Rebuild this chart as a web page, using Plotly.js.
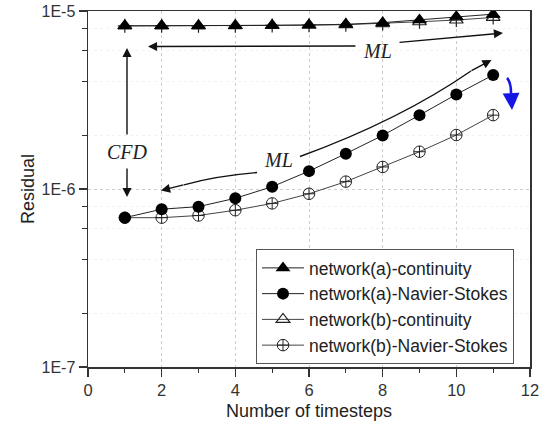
<!DOCTYPE html>
<html>
<head>
<meta charset="utf-8">
<script src="https://cdn.plot.ly/plotly-3.0.1.min.js"></script>
<style>html,body{margin:0;padding:0;background:#fff}#chart{width:551px;height:425px}</style>
</head>
<body>
<div id="chart"></div>
<script>
// ---- data ----
const timesteps = [1, 2, 3, 4, 5, 6, 7, 8, 9, 10, 11];
const aContinuity = [8.25e-6, 8.25e-6, 8.25e-6, 8.27e-6, 8.3e-6, 8.35e-6, 8.42e-6, 8.6e-6, 8.9e-6, 9.3e-6, 9.6e-6];
const aNavierStokes = [6.9e-7, 7.7e-7, 7.96e-7, 8.87e-7, 1.03e-6, 1.26e-6, 1.58e-6, 2.0e-6, 2.6e-6, 3.4e-6, 4.37e-6];
const bContinuity = [8.25e-6, 8.25e-6, 8.25e-6, 8.27e-6, 8.3e-6, 8.33e-6, 8.38e-6, 8.5e-6, 8.7e-6, 8.9e-6, 9.2e-6];
const bNavierStokes = [6.9e-7, 6.9e-7, 7.1e-7, 7.6e-7, 8.3e-7, 9.4e-7, 1.1e-6, 1.33e-6, 1.62e-6, 2.01e-6, 2.6e-6];
const seriesNames = ["network(a)-continuity", "network(a)-Navier-Stokes", "network(b)-continuity", "network(b)-Navier-Stokes"];
const yTickVals = [1e-7, 1e-6, 1e-5];
const yTickText = ["1E-7", "1E-6", "1E-5"];
const yMinorVals = [2e-7, 4e-7, 6e-7, 8e-7, 2e-6, 4e-6, 6e-6, 8e-6];

// ---- layout helpers (pixel -> paper) ----
const L = 88, R = 530, T = 11, B = 367;
const px = x => (x - L) / (R - L);
const py = y => (B - y) / (B - T);

const lineCol = '#222';
const traces = [
  {x: timesteps, y: bContinuity, name: seriesNames[2], legendrank: 3, mode: 'lines+markers',
   line: {color: '#444', width: 1}, marker: {symbol: 'triangle-up-open', size: 12, color: '#222', line: {width: 1.2, color: '#222'}}},
  {x: timesteps, y: bContinuity, name: seriesNames[2], showlegend: false, mode: 'markers', hoverinfo: 'skip',
   marker: {symbol: 'cross-thin-open', size: 10, color: '#222', line: {width: 1.2, color: '#222'}}},
  {x: timesteps, y: bNavierStokes, name: seriesNames[3], legendrank: 4, mode: 'lines+markers',
   line: {color: '#444', width: 1}, marker: {symbol: 'circle-cross-open', size: 11.5, color: '#222', line: {width: 1, color: '#222'}}},
  {x: timesteps, y: aContinuity, name: seriesNames[0], legendrank: 1, mode: 'lines+markers',
   line: {color: lineCol, width: 1}, marker: {symbol: 'triangle-up', size: 13, color: '#000'}},
  {x: timesteps, y: aNavierStokes, name: seriesNames[1], legendrank: 2, mode: 'lines+markers',
   line: {color: lineCol, width: 1}, marker: {symbol: 'circle', size: 12, color: '#000'}}
];

const serif = {family: 'Liberation Serif, Times New Roman, serif', size: 20, color: '#222'};
const ann = (x, y, text) => ({xref: 'paper', yref: 'paper', x: px(x), y: py(y), xanchor: 'center', yanchor: 'middle',
  text: text, showarrow: false, font: serif});
const arrow = (hx, hy, tx, ty, color, width) => ({xref: 'paper', yref: 'paper', x: px(hx), y: py(hy), ax: tx - hx, ay: ty - hy,
  text: '', showarrow: true, arrowhead: 2, arrowsize: 1.3, arrowwidth: width || 1.4, arrowcolor: color || '#111'});

const pathP = pts => pts.map(p => p[0] + px(p[1]) + ',' + py(p[2])).join(' ');

const layout = {
  width: 551, height: 425,
  margin: {l: L, r: 551 - R, t: T, b: 425 - B},
  paper_bgcolor: '#fff', plot_bgcolor: '#fff',
  font: {family: 'Liberation Sans, Arial, sans-serif', size: 16, color: '#333'},
  showlegend: true,
  legend: {x: px(256), y: py(249), xanchor: 'left', yanchor: 'top', bgcolor: '#fff', bordercolor: '#555', borderwidth: 1,
    font: {size: 17.5, color: '#222'}, traceorder: 'normal', tracegroupgap: 0, itemwidth: 42},
  xaxis: {range: [0, 12], dtick: 2, tick0: 0, ticks: 'outside', ticklen: 8, tickwidth: 1.2, tickcolor: '#333',
    showline: true, linecolor: '#333', linewidth: 1.5, mirror: true, zeroline: false,
    showgrid: true, gridcolor: '#cccccc', griddash: 'dot', gridwidth: 1,
    minor: {dtick: 1, ticks: 'outside', ticklen: 4, tickcolor: '#333', showgrid: false},
    tickfont: {size: 16.5, color: '#333'},
    title: {text: 'Number of timesteps', font: {size: 18, color: '#222'}, standoff: 6}},
  yaxis: {type: 'log', range: [-7, -5], tickmode: 'array', tickvals: yTickVals, ticktext: yTickText,
    ticks: 'outside', ticklen: 8, tickwidth: 1.2, tickcolor: '#333',
    showline: true, linecolor: '#333', linewidth: 1.5, mirror: true, zeroline: false,
    showgrid: true, gridcolor: '#cccccc', griddash: 'dot', gridwidth: 1,
    minor: {tickmode: 'array', tickvals: yMinorVals, ticks: 'outside', ticklen: 5, tickcolor: '#333', showgrid: true, gridcolor: '#f2f2f2'},
    tickfont: {size: 16, color: '#333'},
    title: {text: 'Residual', font: {size: 18, color: '#222'}, standoff: 2}},
  annotations: [
    ann(377, 51, '<i>ML</i>'),
    arrow(148, 46.5, 357, 46, '#111'),
    arrow(503, 33, 398, 42.5, '#111'),
    ann(127, 152, '<i>CFD</i>'),
    arrow(127, 48, 127, 136, '#111'),
    arrow(127, 197, 127, 167, '#111'),
    ann(278, 160, '<i>ML</i>'),
    arrow(161, 190.5, 185, 184.5, '#111'),
    arrow(491.5, 60, 470, 71.5, '#111'),
    arrow(512, 110, 511, 92, '#1515e6', 2.6)
  ],
  shapes: [
    {type: 'path', xref: 'paper', yref: 'paper', path: pathP([['M', 257, 172.5], ['Q', 215, 176], ['', 184, 184.8]]), line: {color: '#111', width: 1.4}},
    {type: 'path', xref: 'paper', yref: 'paper', path: pathP([['M', 300, 156.5], ['Q', 400, 120], ['', 471, 71]]), line: {color: '#111', width: 1.4}},
    {type: 'path', xref: 'paper', yref: 'paper', path: pathP([['M', 507, 78], ['Q', 511, 82], ['', 511, 93]]), line: {color: '#1515e6', width: 2.6}}
  ]
};

Plotly.newPlot('chart', traces, layout, {staticPlot: true, displayModeBar: false});
</script>
</body>
</html>
